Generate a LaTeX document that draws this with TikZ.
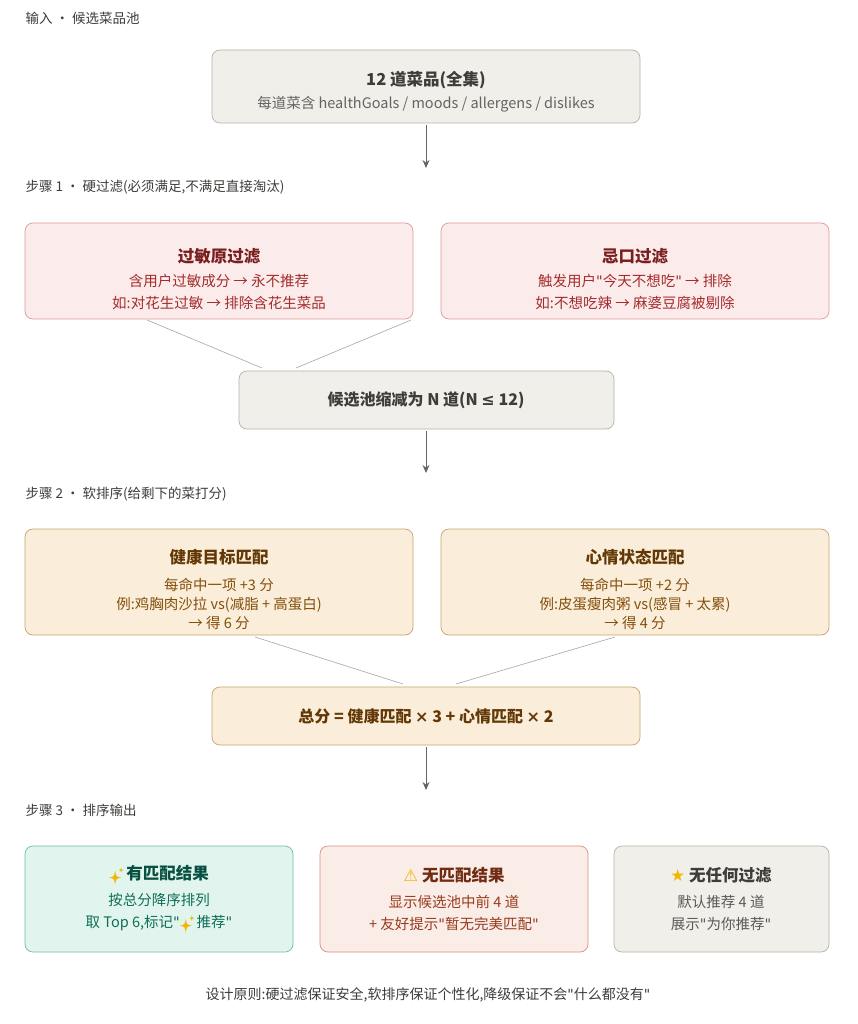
\documentclass[tikz,border=0pt]{standalone}
\usepackage{fontspec}
\setmainfont{Noto Sans CJK SC}
\newfontfamily\sym{DejaVu Sans}
\usetikzlibrary{arrows.meta}
\definecolor{gfill}{HTML}{F1EFE9}\definecolor{gline}{HTML}{B5B1A8}\definecolor{gtext}{HTML}{3D3D3A}
\definecolor{rfill}{HTML}{FCEBEB}\definecolor{rline}{HTML}{E09A9A}\definecolor{rtext}{HTML}{7A1F1F}\definecolor{rbody}{HTML}{A32D2D}
\definecolor{ofill}{HTML}{FAEEDA}\definecolor{oline}{HTML}{C9A26E}\definecolor{otext}{HTML}{633806}\definecolor{obody}{HTML}{854F0B}
\definecolor{tfill}{HTML}{E1F5EE}\definecolor{tline}{HTML}{6FBF9B}\definecolor{ttext}{HTML}{085041}\definecolor{tbody}{HTML}{0F6E56}
\definecolor{cfill}{HTML}{FAECE7}\definecolor{cline}{HTML}{D9907A}\definecolor{ctext}{HTML}{712B13}\definecolor{cbody}{HTML}{993C1D}
\definecolor{star}{HTML}{F2B705}
\newcommand{\dq}{{\sym\symbol{34}}}
\newcommand{\sparkle}{\tikz[baseline=-1pt,x=1pt,y=1pt]{%
 \fill[star] (0,8) .. controls (1,2) .. (6,1) .. controls (1,0) .. (0,-6) .. controls (-1,0) .. (-6,1) .. controls (-1,2) .. (0,8);
 \fill[star] (6,11) .. controls (6.5,9) .. (8.5,8.5) .. controls (6.5,8) .. (6,6) .. controls (5.5,8) .. (3.5,8.5) .. controls (5.5,9) .. (6,11);}\,}
\tikzset{
 box/.style={draw, rounded corners=8pt, line width=0.7pt},
 lbl/.style={anchor=west, font=\fontsize{13.5}{15}\selectfont, text=gtext},
 arr/.style={-{Stealth[length=8pt,width=7pt]}, draw=gray!80!black, line width=1pt},
 ln/.style={draw=gray!70, line width=0.6pt},
 tt/.style={font=\fontsize{16.5}{20}\selectfont\bfseries, align=center},
 bd/.style={font=\fontsize{14.5}{22}\selectfont, align=center},
}
\begin{document}
\begin{tikzpicture}[x=1pt,y=-1pt]
\useasboundingbox[fill=white] (0,0) rectangle (858,1024);
\node[lbl] (l0) at (22,18) {输入 · 候选菜品池};
\draw[box, fill=gfill, draw=gline] (212,50) rectangle (640,123);
\node[tt, text=gtext] (t0) at (426,80) {12 道菜品(全集)};
\node[bd, text=gtext!80] (b0) at (426,104) {每道菜含 healthGoals / moods / allergens / dislikes};
\coordinate (a0s) at (426,125); \coordinate (a0e) at (426,168);
\draw[arr] (a0s) -- (a0e);
\node[lbl] (l1) at (22,187) {步骤 1 · 硬过滤(必须满足,不满足直接淘汰)};
\draw[box, fill=rfill, draw=rline] (25,223) rectangle (413,319);
\node[tt, text=rtext] (t1) at (219,256) {过敏原过滤};
\node[bd, text=rbody] (b1) at (219,292) {含用户过敏成分 → 永不推荐\\如:对花生过敏 → 排除含花生菜品};
\draw[box, fill=rfill, draw=rline] (441,223) rectangle (829,319);
\node[tt, text=rtext] (t2) at (635,256) {忌口过滤};
\node[bd, text=rbody] (b2) at (635,292) {触发用户\dq 今天不想吃\dq{} → 排除\\如:不想吃辣 → 麻婆豆腐被剔除};
\draw[ln] (147,320) -- (262,368);
\draw[ln] (411,320) -- (296,368);
\draw[box, fill=gfill, draw=gline] (239,371) rectangle (614,429);
\node[bd, font=\fontsize{16}{18}\selectfont\bfseries, text=gtext] (m1) at (426,400) {候选池缩减为 N 道(N {\sym ≤} 12)};
\draw[arr] (426,431) -- (426,473);
\node[lbl] (l2) at (22,494) {步骤 2 · 软排序(给剩下的菜打分)};
\draw[box, fill=ofill, draw=oline] (25,529) rectangle (413,635);
\node[tt, text=otext] (t3) at (219,557) {健康目标匹配};
\node[bd, text=obody, font=\fontsize{14.5}{19}\selectfont] (b3) at (219,604) {每命中一项 +3 分\\例:鸡胸肉沙拉 vs(减脂 + 高蛋白)\\→ 得 6 分};
\draw[box, fill=ofill, draw=oline] (441,529) rectangle (829,635);
\node[tt, text=otext] (t4) at (635,557) {心情状态匹配};
\node[bd, text=obody, font=\fontsize{14.5}{19}\selectfont] (b4) at (635,604) {每命中一项 +2 分\\例:皮蛋瘦肉粥 vs(感冒 + 太累)\\→ 得 4 分};
\draw[ln] (255,637) -- (403,684);
\draw[ln] (615,637) -- (456,684);
\draw[box, fill=ofill, draw=oline] (212,687) rectangle (640,745);
\node[bd, font=\fontsize{16}{18}\selectfont\bfseries, text=otext] (m2) at (426,716) {总分 = 健康匹配 {\sym ×} 3 + 心情匹配 {\sym ×} 2};
\draw[arr] (426,747) -- (426,790);
\node[lbl] (l3) at (22,810) {步骤 3 · 排序输出};
\draw[box, fill=tfill, draw=tline] (25,846) rectangle (293,952);
\node[tt, text=ttext] (t5) at (159,875) {\sparkle 有匹配结果};
\node[bd, text=tbody] (b5) at (159,913) {按总分降序排列\\取 Top 6,标记\dq\sparkle 推荐\dq};
\draw[box, fill=cfill, draw=cline] (320,846) rectangle (588,952);
\node[tt, text=ctext] (t6) at (454,875) {{\sym\color{star}⚠} 无匹配结果};
\node[bd, text=cbody] (b6) at (454,913) {显示候选池中前 4 道\\+ 友好提示\dq 暂无完美匹配\dq};
\draw[box, fill=gfill, draw=gline] (614,846) rectangle (829,952);
\node[tt, text=gtext] (t7) at (721,875) {{\sym\color{star}★} 无任何过滤};
\node[bd, text=gtext!85] (b7) at (721,913) {默认推荐 4 道\\展示\dq 为你推荐\dq};
\node[font=\fontsize{14}{16}\selectfont, text=gtext] (f) at (428,995) {设计原则:硬过滤保证安全,软排序保证个性化,降级保证不会\dq 什么都没有\dq};
\end{tikzpicture}
\end{document}
